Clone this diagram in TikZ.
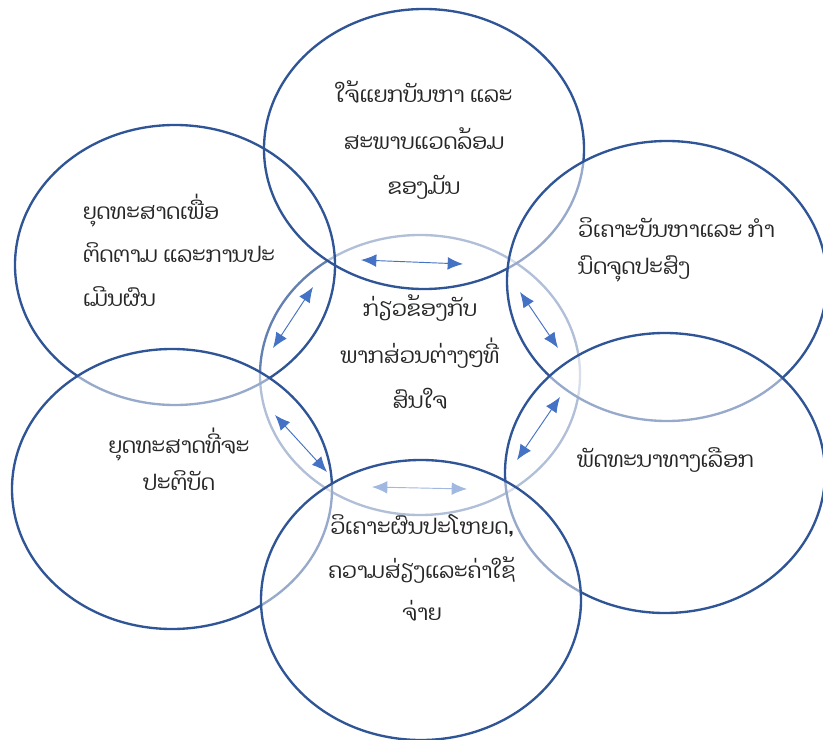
\documentclass[tikz,border=0pt]{standalone}
\usepackage{fontspec}
\newfontfamily\laofont[Script=Lao]{Dhyana}
\usepackage{tikz}
\usetikzlibrary{arrows.meta,shapes.geometric}
\definecolor{ringblue}{HTML}{2F5597}
\definecolor{arrowblue}{HTML}{4472C4}
\begin{document}
\begin{tikzpicture}[x=0.03cm,y=-0.03cm,>={Latex[length=0.46cm,width=0.38cm]},
  ring/.style={ellipse,draw=ringblue,line width=2pt,minimum width=9.6cm,minimum height=8.4cm,inner sep=0pt},
  lit/.style={fill=white,fill opacity=0.5},
  txt/.style={font=\laofont\fontsize{18.5}{32}\selectfont,text=black!85,inner sep=0pt}]
\useasboundingbox (0,0) rectangle (823,740);
\node[ring,draw=ringblue!75!white] (ctr) at (420,375) {};
\node[ring,lit] (top) at (424,149) {};
\node[ring] (ul) at (175,265) {};
\node[ring,lit] (ur) at (667,281) {};
\node[ring,lit] (lr) at (665,473) {};
\node[ring,lit] (ll) at (172,489) {};
\coordinate (a1) at (361,260); \coordinate (a2) at (463,264);
\coordinate (b1) at (313,287); \coordinate (b2) at (273,348);
\coordinate (c1) at (520,292); \coordinate (c2) at (558,348);
\coordinate (d1) at (275,415); \coordinate (d2) at (327,472);
\coordinate (e1) at (560,397); \coordinate (e2) at (517,460);
\coordinate (f1) at (372,487); \coordinate (f2) at (467,489);
\draw[<->,arrowblue,line width=0.8pt] (a1)--(a2); \draw[<->,arrowblue,line width=0.8pt] (b1)--(b2);
\draw[<->,arrowblue,line width=0.8pt] (c1)--(c2); \draw[<->,arrowblue,line width=0.8pt] (d1)--(d2);
\draw[<->,arrowblue,line width=0.8pt] (e1)--(e2); \draw[<->,arrowblue,line width=0.8pt] (f1)--(f2);
\node[ring,lit] (bot) at (421,600) {};
\node[txt,align=center] (ttop) at (424,140) {ໃຈ້ແຍກບັນຫາ ແລະ\\[8pt]ສະພາບແວດລ້ອມ\\[6pt]ຂອງມັນ};
\node[txt,align=left,anchor=west] (tul) at (83,250) {ຍຸດທະສາດເພື່ອ\\[5pt]ຕິດຕາມ ແລະການປະ\\[5pt]ເມີນຜົນ};
\node[txt,align=left,anchor=west] (tur) at (578,250) {ວິເຄາະບັນຫາແລະ ກຳ\\ນົດຈຸດປະສົງ};
\node[txt,align=center] (tctr) at (420,352) {ກ່ຽວຂ້ອງກັບ\\[8pt]ພາກສ່ວນຕ່າງໆທີ່\\[6pt]ສົນໃຈ};
\node[txt,align=center] (tll) at (179,459) {ຍຸດທະສາດທີ່ຈະ\\ປະຕິບັດ};
\node[txt,anchor=west] (tlr) at (577,460) {ພັດທະນາທາງເລືອກ};
\node[txt,align=center] (tbot) at (422,568) {ວິເຄາະຜົນປະໂຫຍດ,\\[5pt]ຄວາມສ່ຽງແລະຄ່າໃຊ້\\[4pt]ຈ່າຍ};
\end{tikzpicture}
\end{document}
